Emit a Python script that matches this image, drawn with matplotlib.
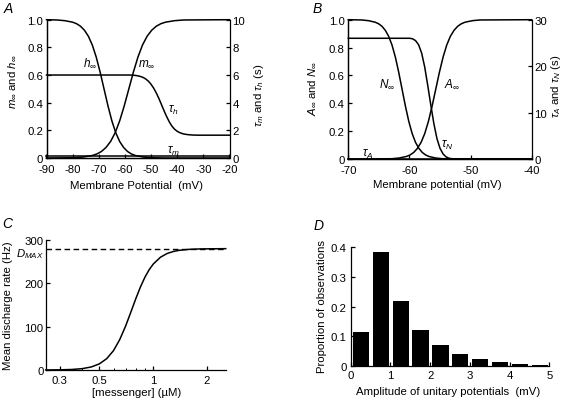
import matplotlib
matplotlib.use("Agg")
import matplotlib.pyplot as plt
from matplotlib.ticker import FixedLocator, NullFormatter

plt.rcParams['font.family'] = ['Liberation Sans', 'DejaVu Sans']
plt.rcParams['mathtext.fontset'] = 'custom'
plt.rcParams['mathtext.rm'] = 'Liberation Sans'
plt.rcParams['mathtext.it'] = 'Liberation Sans:italic'
plt.rcParams['axes.unicode_minus'] = False
plt.rcParams['font.size'] = 8.2

# ---- panel A: Na-like gating
v_h = [-90, -86, -83, -80, -78.5, -77, -75.5, -74, -72.5, -71, -69.5, -68, -66.5,
       -65, -63.5, -62, -60.5, -59, -57.5, -56, -53, -50, -45, -20]
h_inf = [1.0, 0.998, 0.993, 0.982, 0.971, 0.953, 0.924, 0.881, 0.818, 0.731, 0.622, 0.5, 0.378,
         0.269, 0.182, 0.119, 0.076, 0.047, 0.029, 0.018, 0.007, 0.002, 0.0, 0.0]

v_m = [-90, -79.5, -76, -72.5, -70.75, -69, -67.25, -65.5, -63.75, -62, -60.25, -58.5,
       -56.75, -55, -53.25, -51.5, -49.75, -48, -46.25, -44.5, -41, -37.5, -20]
m_inf = [0.0, 0.002, 0.007, 0.018, 0.029, 0.047, 0.076, 0.119, 0.182, 0.269, 0.378, 0.5,
         0.622, 0.731, 0.818, 0.881, 0.924, 0.953, 0.971, 0.982, 0.993, 0.998, 1.0]

v_tauh = [-90, -58, -57, -56, -55, -54, -53, -52, -51, -50, -49, -48, -47, -46, -45, -44,
          -43, -42, -41, -40, -39, -38, -37, -36, -34, -32, -20]
tau_h = [6.0, 6.0, 5.99, 5.97, 5.94, 5.89, 5.82, 5.71, 5.55, 5.33, 5.05, 4.7, 4.3, 3.85, 3.4, 2.98,
         2.6, 2.3, 2.08, 1.93, 1.83, 1.76, 1.72, 1.69, 1.66, 1.65, 1.65]

v_taum = [-90, -20]
tau_m = [0.17, 0.17]

# ---- panel B
v_n = [-70, -67.8, -66.7, -65.6, -65.05, -64.5, -63.95, -63.4, -62.85, -62.3, -61.75, -61.2,
       -60.65, -60.1, -59.55, -59.0, -58.45, -57.9, -57.35, -56.8, -55.7, -54.6, -40]
n_inf = [1.0, 0.998, 0.993, 0.982, 0.971, 0.953, 0.924, 0.881, 0.818, 0.731, 0.622, 0.5,
         0.378, 0.269, 0.182, 0.119, 0.076, 0.047, 0.029, 0.018, 0.007, 0.002, 0.0]

v_a = [-70, -62.9, -61.7, -60.5, -59.9, -59.3, -58.7, -58.1, -57.5, -56.9, -56.3, -55.7,
       -55.1, -54.5, -53.9, -53.3, -52.7, -52.1, -51.5, -50.9, -49.7, -48.5, -40]
a_inf = [0.0, 0.002, 0.007, 0.018, 0.029, 0.047, 0.076, 0.119, 0.182, 0.269, 0.378, 0.5,
         0.622, 0.731, 0.818, 0.881, 0.924, 0.953, 0.971, 0.982, 0.993, 0.998, 1.0]

v_taun = [-70, -60, -59.5, -59, -58.5, -58, -57.5, -57, -56.5, -56, -55.5, -55, -54.5,
          -54, -53.5, -53, -52, -40]
tau_n = [26, 26, 25.9, 25.5, 24.6, 22.8, 19.8, 15.8, 11.6, 7.6, 4.4, 2.3, 1.1,
         0.45, 0.15, 0.05, 0, 0]

v_taua = [-70, -40]
tau_a = [0.05, 0.05]

# ---- panel C
conc = [0.25, 0.3, 0.35, 0.4, 0.45, 0.5, 0.55, 0.6, 0.65, 0.7, 0.75, 0.8, 0.85, 0.9,
        0.95, 1.0, 1.1, 1.2, 1.3, 1.4, 1.6, 1.8, 2.0, 2.55]
rate = [0.1, 0.4, 1.2, 3.1, 7.0, 14.2, 26.4, 44.9, 70.3, 100.8, 133.5, 164.9, 192.2, 214.4,
        231.5, 244.2, 260.4, 269, 273.6, 276.2, 278.5, 279.3, 279.6, 280]
d_max = 280

# ---- panel D
amp = [0.26, 0.76, 1.26, 1.76, 2.26, 2.76, 3.26, 3.76, 4.26, 4.76]
prop = [0.115, 0.382, 0.219, 0.123, 0.071, 0.041, 0.023, 0.013, 0.008, 0.004]

W, H = 567, 402
fig = plt.figure(figsize=(W / 100, H / 100), dpi=100)


def px_axes(l, t, r, b):
    return fig.add_axes([l / W, 1 - b / H, (r - l) / W, (b - t) / H])


def style(ax, sides):
    for s in ['left', 'right', 'top', 'bottom']:
        ax.spines[s].set_visible(s in sides)
        ax.spines[s].set_linewidth(0.9)
    ax.tick_params(direction='in', length=3, width=0.9, pad=2.5)
    ax.tick_params(axis='x', pad=4.5)


lw = 1.1
italic = dict(fontsize=8.5)

# A
axA = px_axes(46.5, 20.7, 229.5, 159)
axA2 = axA.twinx()
axA.plot(v_h, h_inf, 'k', lw=lw, clip_on=False)
axA.plot(v_m, m_inf, 'k', lw=lw, clip_on=False)
axA2.plot(v_tauh, tau_h, 'k', lw=lw, clip_on=False)
axA2.plot(v_taum, tau_m, 'k', lw=lw, clip_on=False)
axA.set_xlim(-90, -20)
axA.set_ylim(0, 1)
axA2.set_ylim(0, 10)
axA.set_xticks(range(-90, -19, 10))
axA.set_yticks([0, 0.2, 0.4, 0.6, 0.8, 1.0])
axA.set_yticklabels(['0', '0.2', '0.4', '0.6', '0.8', '1.0'])
axA2.set_yticks(range(0, 11, 2))
style(axA, ['left', 'bottom'])
style(axA2, ['right', 'left', 'bottom'])
axA2.tick_params(axis='y', pad=2)
axA.text(-0.19, 0.56, r'$m_\infty$ and $h_\infty$', transform=axA.transAxes,
         rotation=90, ha='center', va='center')
axA.text(1.16, 0.46, r'$\tau_m$ and $\tau_h$ (s)', transform=axA.transAxes,
         rotation=90, ha='center', va='center')
axA.text(0.494, -0.195, 'Membrane Potential  (mV)', transform=axA.transAxes,
         ha='center', va='center')
axA.text(-73.4, 0.69, r'$h_\infty$', ha='center', va='center', **italic)
axA.text(-51.6, 0.69, r'$m_\infty$', ha='center', va='center', **italic)
axA2.text(-41.6, 3.5, r'$\tau_h$', ha='center', va='center', **italic)
axA2.text(-41.6, 0.55, r'$\tau_m$', ha='center', va='center', **italic)
fig.text(8 / W, 1 - 9 / H, 'A', fontsize=10, style='italic', ha='center', va='center')

# B
axB = px_axes(348.3, 20.7, 531.7, 160)
axB2 = axB.twinx()
axB.plot(v_n, n_inf, 'k', lw=lw, clip_on=False)
axB.plot(v_a, a_inf, 'k', lw=lw, clip_on=False)
axB2.plot(v_taun, tau_n, 'k', lw=lw, clip_on=False)
axB2.plot(v_taua, tau_a, 'k', lw=lw, clip_on=False)
axB.set_xlim(-70, -40)
axB.set_ylim(0, 1)
axB2.set_ylim(0, 30)
axB.set_xticks([-70, -60, -50, -40])
axB.set_yticks([0, 0.2, 0.4, 0.6, 0.8, 1.0])
axB.set_yticklabels(['0', '0.2', '0.4', '0.6', '0.8', '1.0'])
axB2.set_yticks([0, 10, 20, 30])
style(axB, ['left', 'bottom'])
style(axB2, ['right', 'left', 'bottom'])
axB2.tick_params(axis='y', pad=2)
axB.text(-0.198, 0.513, r'$A_\infty$ and $N_\infty$', transform=axB.transAxes,
         rotation=90, ha='center', va='center')
axB.text(1.13, 0.53, r'$\tau_A$ and $\tau_N$ (s)', transform=axB.transAxes,
         rotation=90, ha='center', va='center')
axB.text(0.486, -0.18, 'Membrane potential (mV)', transform=axB.transAxes,
         ha='center', va='center')
axB.text(-63.7, 0.54, r'$N_\infty$', ha='center', va='center', **italic)
axB.text(-53.0, 0.54, r'$A_\infty$', ha='center', va='center', **italic)
axB2.text(-53.85, 3.2, r'$\tau_N$', ha='center', va='center', **italic)
axB2.text(-66.8, 1.3, r'$\tau_A$', ha='center', va='center', **italic)
fig.text(317.5 / W, 1 - 9 / H, 'B', fontsize=10, style='italic', ha='center', va='center')

# C
axC = px_axes(45.7, 241, 225.7, 371)
axC.plot(conc, rate, 'k', lw=lw, clip_on=False)
axC.plot([conc[0], conc[-1]], [d_max, d_max], 'k', lw=1.0, dashes=(4, 2.5))
axC.set_xscale('log')
axC.set_xlim(0.25, 2.55)
axC.set_ylim(0, 300)
axC.xaxis.set_major_locator(FixedLocator([0.3, 0.5, 1, 2]))
axC.xaxis.set_minor_locator(FixedLocator([0.4, 0.6, 0.7, 0.8, 0.9]))
axC.xaxis.set_minor_formatter(NullFormatter())
axC.set_xticklabels(['0.3', '0.5', '1', '2'])
axC.set_yticks([0, 100, 200, 300])
style(axC, ['left', 'bottom'])
axC.tick_params(axis='x', which='minor', direction='in', length=1.8, width=0.7)
axC.tick_params(axis='y', pad=1.5)
axC.tick_params(axis='x', pad=3.5)
axC.text(-0.01, d_max - 10, r'$D_{MAX}$', transform=axC.get_yaxis_transform(),
         ha='right', va='center', fontsize=8.2)
axC.text(-0.209, 0.5, 'Mean discharge rate (Hz)', transform=axC.transAxes,
         rotation=90, ha='center', va='center')
axC.text(0.507, -0.17, '[messenger] (µM)', transform=axC.transAxes,
         ha='center', va='center')
fig.text(7.5 / W, 1 - 224 / H, 'C', fontsize=10, style='italic', ha='center', va='center')

# D
axD = px_axes(350.7, 247.7, 549.3, 367.3)
axD.bar(amp, prop, width=0.41, color='k', linewidth=0)
axD.set_xlim(0, 5)
axD.set_ylim(0, 0.4)
axD.set_xticks(range(0, 6))
axD.set_yticks([0, 0.1, 0.2, 0.3, 0.4])
axD.set_yticklabels(['0', '0.1', '0.2', '0.3', '0.4'])
style(axD, ['left', 'bottom'])
axD.tick_params(axis='x', pad=3)
axD.tick_params(axis='y', pad=3)
axD.text(-0.146, 0.507, 'Proportion of observations', transform=axD.transAxes,
         rotation=90, ha='center', va='center')
axD.text(0.49, -0.21, 'Amplitude of unitary potentials  (mV)', transform=axD.transAxes,
         ha='center', va='center')
fig.text(319 / W, 1 - 226 / H, 'D', fontsize=10, style='italic', ha='center', va='center')

fig.savefig('out.png', dpi=100)
